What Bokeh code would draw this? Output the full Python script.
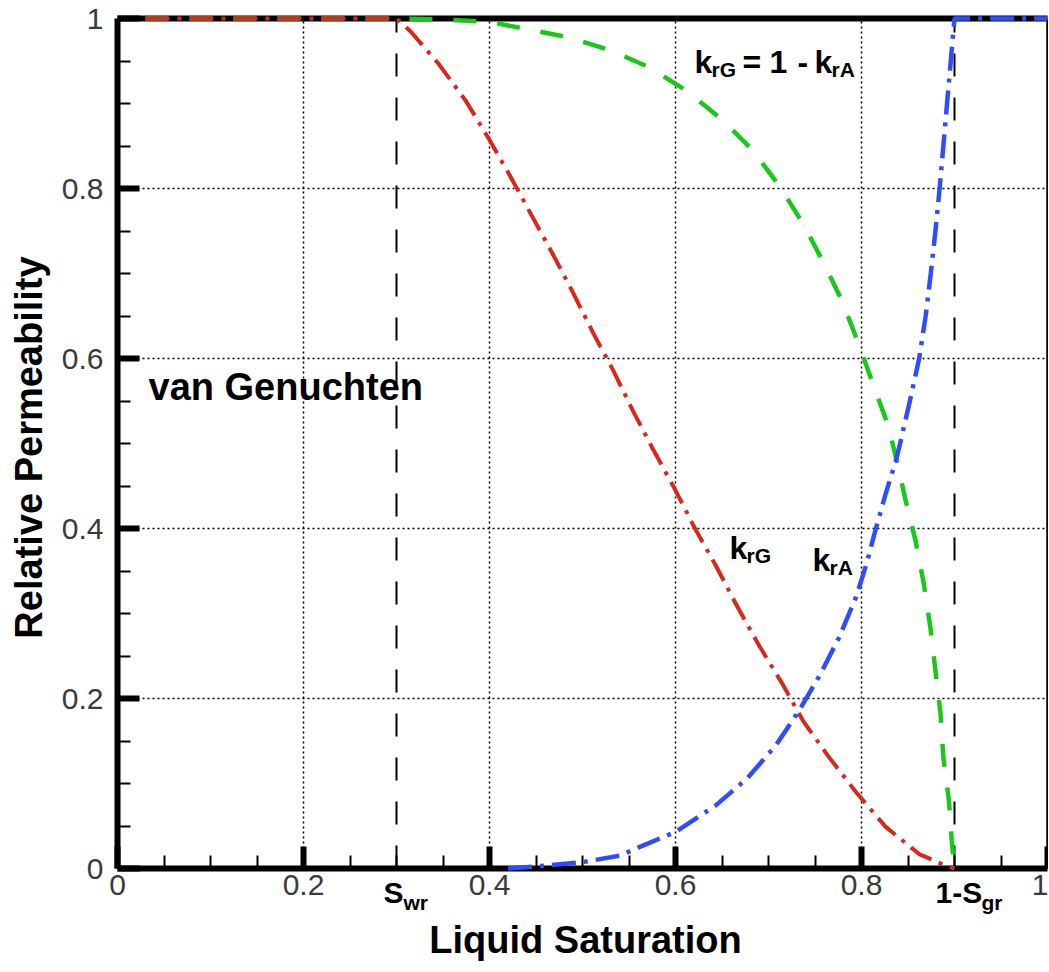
import math
from bokeh.plotting import figure
from bokeh.models import Range1d, FixedTicker, LinearAxis, Label, CustomJSTickFormatter
from bokeh.embed import file_html
from bokeh.resources import INLINE

# ---------------- data ----------------
# gas relative permeability k_rG (red, dash-dot)
s_gas = [0.03, 0.10, 0.20, 0.30, 0.315, 0.345, 0.374, 0.399, 0.422, 0.445, 0.468,
         0.490, 0.511, 0.533, 0.554, 0.576, 0.599, 0.621, 0.644, 0.667, 0.690,
         0.714, 0.737, 0.765, 0.794, 0.826, 0.862, 0.890, 0.900]
kr_gas = [1.0, 1.0, 1.0, 1.0, 0.985, 0.947, 0.904, 0.859, 0.815, 0.769, 0.723,
          0.677, 0.631, 0.586, 0.539, 0.493, 0.447, 0.400, 0.355, 0.307, 0.262,
          0.219, 0.174, 0.131, 0.090, 0.049, 0.017, 0.0035, 0.0]

# liquid relative permeability k_rA (blue, dash-dot)
s_liq = [0.420, 0.461, 0.500, 0.540, 0.565, 0.600, 0.643, 0.677, 0.708, 0.733,
         0.756, 0.776, 0.794, 0.805, 0.815, 0.826, 0.837, 0.8415, 0.852, 0.862,
         0.869, 0.8745, 0.8795, 0.884, 0.888, 0.892, 0.896, 0.900, 1.000]
kr_liq = [0.0, 0.0035, 0.0075, 0.015, 0.027, 0.043, 0.074, 0.106, 0.145, 0.186,
          0.229, 0.272, 0.319, 0.357, 0.398, 0.441, 0.480, 0.50, 0.55, 0.60,
          0.65, 0.70, 0.75, 0.80, 0.85, 0.90, 0.95, 1.0, 1.0]

# complementary gas curve k_rG = 1 - k_rA (green, dashed)
s_comp = [0.03, 0.20, 0.30, 0.35, 0.40, 0.438, 0.484, 0.529, 0.573, 0.613, 0.651,
          0.683, 0.713, 0.738, 0.760, 0.779, 0.797, 0.813, 0.828, 0.838, 0.847,
          0.858, 0.867, 0.874, 0.8795, 0.885, 0.888, 0.894, 0.897, 0.900]
kr_comp = [1.0, 1.0, 1.0, 0.999, 0.996, 0.988, 0.978, 0.963, 0.942, 0.914, 0.880,
           0.845, 0.801, 0.757, 0.711, 0.668, 0.617, 0.568, 0.523, 0.480, 0.435,
           0.386, 0.335, 0.284, 0.233, 0.182, 0.131, 0.080, 0.033, 0.0]

# residual saturation markers: S_wr and 1 - S_gr
residual_marks = [0.3, 0.9]

major_ticks = [0.0, 0.2, 0.4, 0.6, 0.8, 1.0]
minor_ticks = [0.05, 0.10, 0.15, 0.25, 0.30, 0.35, 0.45, 0.50, 0.55,
               0.65, 0.70, 0.75, 0.85, 0.90, 0.95]
grid_ticks = [0.2, 0.4, 0.6, 0.8]

# ---------------- geometry ----------------
FONT = "Liberation Sans"
W, H = 1048, 971
X0, PPX = 117, 930.0      # page x of S=0, pixels per unit
Y0, PPY = 868, 850.0      # page y of k=0, pixels per unit

p = figure(width=W, height=H,
           x_range=Range1d(-X0 / PPX, (W - X0) / PPX),
           y_range=Range1d(-(H - Y0) / PPY, Y0 / PPY),
           output_backend="svg", toolbar_location=None,
           min_border_left=0, min_border_right=0,
           min_border_top=0, min_border_bottom=0)
p.background_fill_color = "white"
p.border_fill_color = "white"
p.outline_line_color = None

fmt = CustomJSTickFormatter(code="return (Math.round(tick*100)/100).toString();")
for ax in (p.xaxis[0], p.yaxis[0]):
    ax.fixed_location = 0.0
    ax.bounds = (0, 1)
    ax.ticker = FixedTicker(ticks=major_ticks, minor_ticks=minor_ticks)
    ax.formatter = fmt
    ax.axis_line_width = 6
    ax.axis_line_color = "black"
    ax.major_tick_in = 22
    ax.major_tick_out = 0
    ax.major_tick_line_width = 6
    ax.minor_tick_in = 13
    ax.minor_tick_out = 0
    ax.minor_tick_line_width = 2
    ax.major_label_text_font = FONT
    ax.major_label_text_font_size = "30px"
    ax.major_label_text_color = "#3a3a3a"
p.xaxis.major_label_standoff = 6
p.yaxis.major_label_standoff = 14


def frame_edge(loc, width, side):
    ax = LinearAxis(fixed_location=loc, bounds=(0, 1), ticker=FixedTicker(ticks=[]),
                    axis_line_width=width, axis_line_color="black",
                    major_label_text_font_size="0px",
                    major_tick_line_color=None, minor_tick_line_color=None)
    p.add_layout(ax, side)


frame_edge(1.0, 6, "above")
frame_edge(1.0, 2.5, "right")

use_cross = "cross_bounds" in p.xgrid[0].properties()
for g in (p.xgrid[0], p.ygrid[0]):
    g.ticker = FixedTicker(ticks=grid_ticks)
    g.grid_line_color = "black"
    g.grid_line_width = 1.5
    g.grid_line_dash = "2 3"
    if use_cross:
        g.cross_bounds = (0, 1)
    else:
        g.visible = False
if not use_cross:
    n = len(grid_ticks)
    p.segment(x0=grid_ticks, y0=[0] * n, x1=grid_ticks, y1=[1] * n,
              line_color="black", line_width=1.5, line_dash="2 3", level="underlay")
    p.segment(x0=[0] * n, y0=grid_ticks, x1=[1] * n, y1=grid_ticks,
              line_color="black", line_width=1.5, line_dash="2 3", level="underlay")

# residual saturation verticals
p.segment(x0=residual_marks, y0=[0, 0], x1=residual_marks, y1=[1, 1],
          line_color="black", line_width=2, line_dash="23 21")

# curves
r1 = p.line(s_comp, kr_comp, line_color="#19c819", line_width=4.5, line_dash="23 21")
r2 = p.line(s_gas, kr_gas, line_color="#d8281c", line_width=4, line_dash="24 8 4 8")
r3 = p.line(s_liq, kr_liq, line_color="#2f4cff", line_width=4.5, line_dash="24 8 4 8")
for r in (r1, r2, r3):
    r.level = "overlay"


# ---------------- text ----------------
def rx(px):  # reference-pixel x -> data
    return (px - X0) / PPX


def ry(py):  # reference-pixel y -> data
    return (Y0 - py) / PPY


def lab(px, py, text, size, align="left"):
    # the renderer drops the alphabetic baseline by ~0.42 em; compensate
    p.add_layout(Label(x=rx(px), y=ry(py - 0.42 * size), text=text, text_font=FONT,
                       text_font_size=f"{size}px", text_font_style="bold",
                       text_color="black", text_baseline="alphabetic",
                       text_align=align))


# axis titles
lab(585, 955, "Liquid Saturation", 38, "center")
p.add_layout(Label(x=rx(44 - 0.42 * 38), y=ry(447), text="Relative Permeability",
                   angle=math.pi / 2, text_font=FONT, text_font_size="38px",
                   text_font_style="bold", text_color="black",
                   text_baseline="alphabetic", text_align="center"))

lab(148, 402, "van Genuchten", 38)

# k_rG = 1 - k_rA
lab(694, 75, "k", 32)
lab(711, 78, "rG", 21)
lab(742, 75, "=", 32)
lab(769, 75, "1", 32)
lab(797, 75, "-", 32)
lab(814, 75, "k", 32)
lab(831, 78, "rA", 21)

# k_rG near red curve
lab(729, 561, "k", 32)
lab(746, 564, "rG", 21)
# k_rA near blue curve
lab(812, 573, "k", 32)
lab(829, 576, "rA", 21)

# S_wr and 1-S_gr under the axis
lab(383, 905, "S", 30)
lab(403, 911, "wr", 21)
lab(935, 905, "1-S", 30)
lab(981, 911, "gr", 21)

open("out.html", "w").write(file_html(p, INLINE))
